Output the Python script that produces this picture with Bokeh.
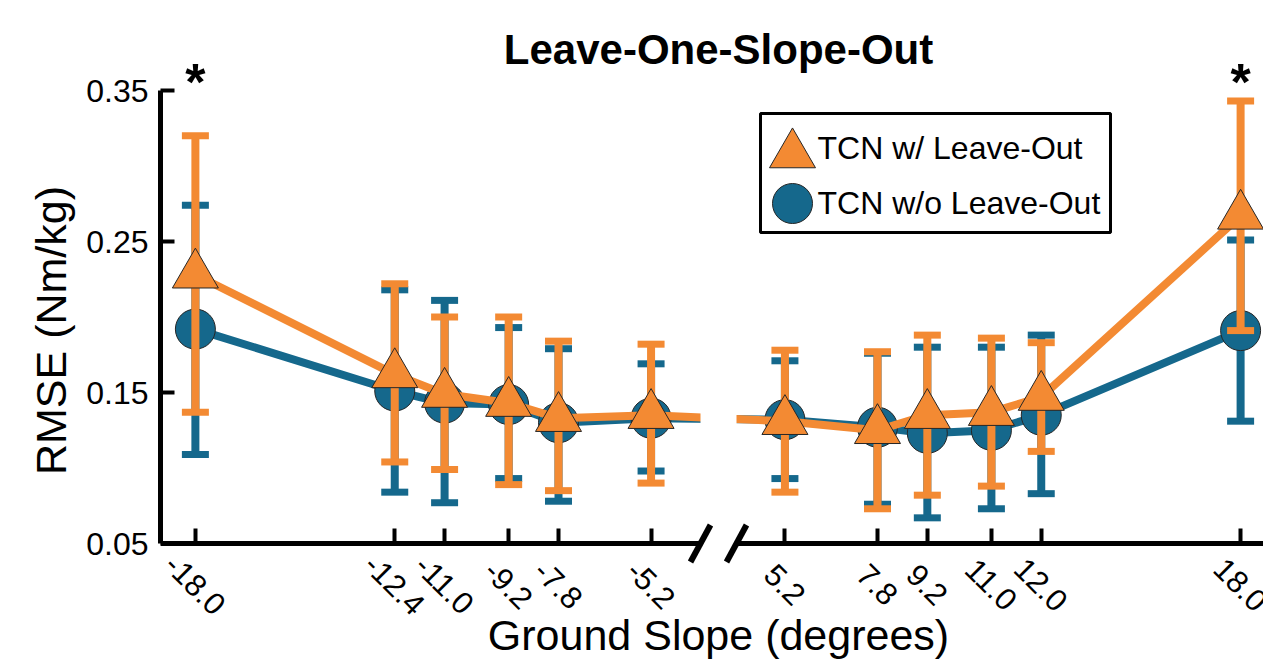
import math
from bokeh.plotting import figure
from bokeh.models import (Range1d, FixedTicker, PrintfTickFormatter, LinearAxis,
                          CustomJSTickFormatter)
from bokeh.core.properties import value
from bokeh.embed import file_html
from bokeh.resources import INLINE

# ---------------- data ----------------
slopes = [-18.0, -12.4, -11.0, -9.2, -7.8, -5.2, 5.2, 7.8, 9.2, 11.0, 12.4, 18.0]
tick_labels = ["-18.0", "-12.4", "-11.0", "-9.2", "-7.8", "-5.2",
               "5.2", "7.8", "9.2", "11.0", "12.0", "18.0"]

# TCN w/o Leave-Out (blue circles)
rmse_without = [0.192, 0.151, 0.143, 0.142, 0.130, 0.133, 0.132, 0.127, 0.123, 0.125, 0.135, 0.191]
low_without = [0.109, 0.084, 0.077, 0.093, 0.078, 0.098, 0.093, 0.076, 0.067, 0.073, 0.083, 0.131]
high_without = [0.274, 0.218, 0.211, 0.193, 0.179, 0.169, 0.171, 0.176, 0.180, 0.180, 0.188, 0.251]

# TCN w/ Leave-Out (orange triangles)
rmse_with = [0.228, 0.162, 0.149, 0.143, 0.133, 0.135, 0.131, 0.125, 0.135, 0.137, 0.147, 0.267]
low_with = [0.137, 0.104, 0.099, 0.089, 0.085, 0.090, 0.084, 0.073, 0.082, 0.088, 0.111, 0.191]
high_with = [0.320, 0.222, 0.200, 0.200, 0.184, 0.182, 0.178, 0.177, 0.188, 0.186, 0.183, 0.343]

sig_slopes = [-18.0, 18.0]
y_ticks = [0.05, 0.15, 0.25, 0.35]

series_names = ["TCN w/ Leave-Out", "TCN w/o Leave-Out"]
title_text = "Leave-One-Slope-Out"
x_title = "Ground Slope (degrees)"
y_title = "RMSE (Nm/kg)"

# ---------------- styling / layout ----------------
FONT = "Liberation Sans"
ORANGE = "#F38A33"
BLUE = "#15688C"
EDGE = "#262626"

W, H = 1263, 660
BL = 160
PX_X = 35.6     # px per slope degree
PX_Y = 1510.0   # px per RMSE unit
X0 = -18.98
X1 = X0 + (W - BL) / PX_X
TOP_PX = 90     # pixel row of y = 0.35
Y1 = 0.35 + TOP_PX / PX_Y
Y0 = Y1 - H / PX_Y
YTOP = 0.35
YBASE = 0.05
BREAK_SHIFT = 6.64          # broken axis: positive slopes shifted left
GAP_LO = X0 + 540 / PX_X
GAP_HI = X0 + 576 / PX_X


def disp(s):
    return s if s < 0 else s - BREAK_SHIFT


def px_x(px):   # horizontal pixel in the picture -> data x
    return X0 + (px - BL) / PX_X


def px_y(py):   # vertical pixel in the picture -> data y
    return Y1 - py / PX_Y


xd = [disp(s) for s in slopes]
n_left = sum(1 for s in slopes if s < 0)

p = figure(width=W, height=H, output_backend="svg", toolbar_location=None,
           title=None, x_range=Range1d(X0, X1), y_range=Range1d(Y0, Y1),
           x_axis_location=None,
           min_border_left=BL, min_border_right=0,
           min_border_top=0, min_border_bottom=0)
p.background_fill_color = "white"
p.border_fill_color = "white"
p.outline_line_color = None
p.grid.visible = False

ya = p.yaxis[0]
ya.bounds = (YBASE, YTOP)
ya.ticker = FixedTicker(ticks=y_ticks)
ya.formatter = PrintfTickFormatter(format="%.2f")
ya.minor_tick_line_color = None
ya.major_tick_in = 14
ya.major_tick_out = 0
ya.major_tick_line_width = 4
ya.major_tick_line_color = "black"
ya.axis_line_width = 5
ya.axis_line_color = "black"
ya.major_label_text_font = FONT
ya.major_label_text_font_size = "32px"
ya.major_label_text_color = "black"
ya.major_label_standoff = 12
ya.axis_label = y_title
ya.axis_label_text_font = FONT
ya.axis_label_text_font_size = "43px"
ya.axis_label_text_font_style = "normal"
ya.axis_label_text_color = "black"
ya.axis_label_standoff = 8


def draw_series(mean, low, high, color, marker, size):
    p.segment(x0=xd, y0=low, x1=xd, y1=high, line_width=8, line_color=color)
    p.rect(x=xd + xd, y=low + high, width=27, height=7,
           width_units="screen", height_units="screen",
           fill_color=color, line_color=None)
    p.line(xd, mean, line_width=8, line_color=color)
    p.scatter(xd, mean, marker=marker, size=size, fill_color=color,
              line_color=EDGE, line_width=1)


draw_series(rmse_without, low_without, high_without, BLUE, "circle", 40)
draw_series(rmse_with, low_with, high_with, ORANGE, "triangle", 46)

# axis break: white gap over the lines, and slashes
p.quad(left=[GAP_LO], right=[GAP_HI], bottom=[YBASE + 8 / PX_Y], top=[YTOP],
       fill_color="white", line_color=None)
sx = [GAP_LO, GAP_HI]
p.segment(x0=[g - 10 / PX_X for g in sx], y0=[YBASE - 18.5 / PX_Y] * 2,
          x1=[g + 10 / PX_X for g in sx], y1=[YBASE + 18.5 / PX_Y] * 2,
          line_width=6, line_color="black")

# broken x axis: two axis pieces placed at y = 0.05
blank = CustomJSTickFormatter(code='return ""')
for ticks, bounds in ((xd[:n_left], (X0, GAP_LO)), (xd[n_left:], (GAP_HI, X1))):
    ax = LinearAxis(fixed_location=YBASE, bounds=bounds,
                    ticker=FixedTicker(ticks=ticks), formatter=blank,
                    axis_line_width=5, axis_line_color="black",
                    major_tick_in=15, major_tick_out=0, major_tick_line_width=4,
                    major_tick_line_color="black", minor_tick_line_color=None,
                    major_label_text_font_size="1px")
    p.add_layout(ax, "below")

# x tick labels (rotated), centred under the ticks
p.text(x=xd, y=[YBASE - 41 / PX_Y] * len(xd), text=tick_labels, angle=-math.pi / 4,
       text_align="center", text_baseline="middle",
       text_font=value(FONT), text_font_size="31px", text_color="black")

# x axis title
p.text(x=[px_x(718)], y=[px_y(634)], text=[x_title],
       text_align="center", text_baseline="middle",
       text_font=value(FONT), text_font_size="43px", text_color="black")

# chart title
p.text(x=[px_x(718)], y=[px_y(49)], text=[title_text],
       text_align="center", text_baseline="middle",
       text_font=value(FONT), text_font_size="42px", text_font_style="bold",
       text_color="black")

# significance stars
p.text(x=[disp(s) for s in sig_slopes], y=[px_y(81)] * len(sig_slopes),
       text=["*"] * len(sig_slopes), text_align="center", text_baseline="middle",
       text_font=value(FONT), text_font_size="52px", text_font_style="bold",
       text_color="black")

# legend (drawn manually to keep full-size markers)
p.quad(left=[px_x(760)], right=[px_x(1110)], bottom=[px_y(232)], top=[px_y(113)],
       fill_color="white", line_color="black", line_width=3)
p.scatter([px_x(792)], [px_y(154)], marker="triangle", size=46, fill_color=ORANGE,
          line_color=EDGE, line_width=1)
p.scatter([px_x(792)], [px_y(203)], marker="circle", size=40, fill_color=BLUE,
          line_color=EDGE, line_width=1)
p.text(x=[px_x(817)] * 2, y=[px_y(147), px_y(202)], text=series_names,
       text_font=value(FONT), text_font_size="32px", text_color="black",
       text_align="left", text_baseline="middle")

open("out.html", "w").write(file_html(p, INLINE))
